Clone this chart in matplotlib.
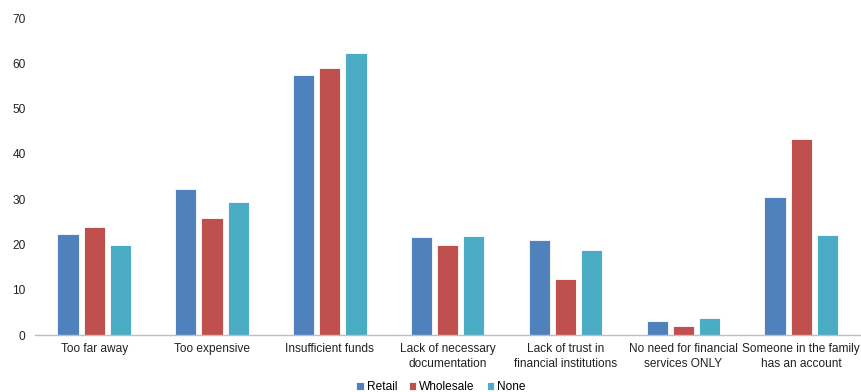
import numpy as np
import matplotlib
matplotlib.use("Agg")
import matplotlib.pyplot as plt

# Razones para no tener cuenta bancaria, por tipo de negocio
categorias = ["Too far away", "Too expensive", "Insufficient funds",
              "Lack of necessary\ndocumentation", "Lack of trust in\nfinancial institutions",
              "No need for financial\nservices ONLY", "Someone in the family\nhas an account"]
retail = [22.3, 32.3, 57.4, 21.7, 21.1, 3.1, 30.6]
wholesale = [23.8, 25.8, 59.0, 19.9, 12.5, 2.0, 43.2]
none = [20.0, 29.5, 62.2, 21.9, 18.8, 3.7, 22.1]

series = ["Retail", "Wholesale", "None"]
colores = ["#4F81BD", "#C0504D", "#4BACC6"]

plt.rcParams["font.family"] = ["Liberation Sans", "DejaVu Sans"]

fig = plt.figure(figsize=(8.61, 3.92), dpi=100)
ax = fig.add_axes([0.041, 0.145, 0.958, 0.809])

x = np.arange(len(categorias))
ancho = 0.18
paso = 0.222
for i, (nombre, datos, c) in enumerate(zip(series, [retail, wholesale, none], colores)):
    ax.bar(x + (i - 1) * paso, datos, ancho, color=c, edgecolor="white",
           linewidth=0.6, label=nombre)

ax.set_xlim(-0.5, len(categorias) - 0.5)
ax.set_ylim(0, 70)
ax.set_yticks(range(0, 71, 10))
ax.set_xticks(x)
ax.set_xticklabels(categorias, fontsize=8.6, color="#222222", linespacing=1.25)
ax.tick_params(axis="y", labelsize=8.6, colors="#222222", length=0, pad=7)
ax.tick_params(axis="x", length=0, pad=6)

for lado in ["top", "right", "left"]:
    ax.spines[lado].set_visible(False)
ax.spines["bottom"].set_color("#BFBFBF")
ax.spines["bottom"].set_linewidth(1)

fig.legend(loc="lower center", ncol=3, frameon=False, fontsize=8.6,
           bbox_to_anchor=(0.512, -0.03), handlelength=0.6, handleheight=0.6,
           handletextpad=0.25, columnspacing=1.0)

fig.savefig("out.png", dpi=100)
